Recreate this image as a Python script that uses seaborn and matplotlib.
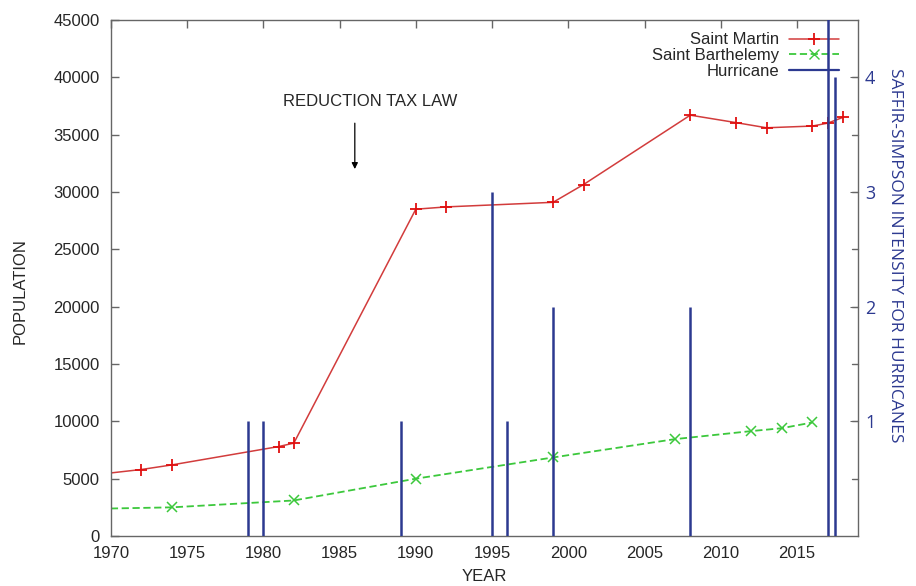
import matplotlib
matplotlib.use("Agg")
import matplotlib.pyplot as plt
from matplotlib.lines import Line2D
import seaborn as sns

# data
sm_years = [1970, 1972, 1974, 1981, 1982, 1990, 1992, 1999, 2001, 2008, 2011, 2013, 2016, 2017, 2018]
sm_pop = [5500, 5800, 6200, 7800, 8100, 28500, 28700, 29100, 30650, 36700, 36050, 35600, 35750, 36000, 36500]

sb_years = [1970, 1974, 1982, 1990, 1999, 2007, 2012, 2014, 2016]
sb_pop = [2400, 2500, 3100, 5000, 6850, 8450, 9150, 9400, 9900]

hurr_years = [1979, 1980, 1989, 1995, 1996, 1999, 2008, 2017, 2017.5]
hurr_cat = [1, 1, 1, 3, 1, 2, 2, 5, 4]

x_ticks = [1970, 1975, 1980, 1985, 1990, 1995, 2000, 2005, 2010, 2015]
y_ticks = list(range(0, 45001, 5000))
cat_ticks = [1, 2, 3, 4]

red = "#d23c3c"
green = "#3cc83c"
navy = "#2c3990"
gray = "#666666"

sns.set_style("white")
plt.rcParams["font.family"] = ["Liberation Sans", "DejaVu Sans"]

fig = plt.figure(figsize=(9.16, 5.86), dpi=100)
ax = fig.add_axes([0.121, 0.0853, 0.8157, 0.8806])

sns.lineplot(x=sm_years, y=sm_pop, ax=ax, color=red, lw=1.1, marker="+",
             markersize=9, markeredgewidth=1.3, markeredgecolor="#e01010",
             markevery=list(range(1, len(sm_years))))
sns.lineplot(x=sb_years, y=sb_pop, ax=ax, color=green, lw=1.3, ls=(0, (4, 2)),
             marker="x", markersize=7, markeredgewidth=1.1,
             markeredgecolor=green, markevery=list(range(1, len(sb_years))))

ax.set_xlim(1970, 2019)
ax.set_ylim(0, 45000)
ax.set_xticks(x_ticks)
ax.set_yticks(y_ticks)
ax.set_xlabel("YEAR", fontsize=12, labelpad=6)
ax.set_ylabel("POPULATION", fontsize=12)
ax.yaxis.set_label_coords(-0.112, 0.475)
ax.tick_params(axis="both", direction="in", length=6, width=1, color=gray,
               labelsize=12, top=True, pad=7)
ax.tick_params(axis="y", pad=8)
for s in ax.spines.values():
    s.set_color(gray)
    s.set_linewidth(1)

# hurricanes on the second axis
ax2 = ax.twinx()
ax2.vlines(hurr_years, 0, hurr_cat, color=navy, lw=1.8)
ax2.set_ylim(0, 4.5)
ax2.set_yticks(cat_ticks)
ax2.tick_params(axis="y", direction="in", length=6, color=gray, labelsize=13,
                labelcolor=navy, pad=5)
for lab in ax2.get_yticklabels():
    lab.set_family("Open Sans")
ax2.set_ylabel("SAFFIR-SIMPSON INTENSITY FOR HURRICANES", rotation=-90,
               color=navy, fontsize=12.5, family="Open Sans")
ax2.yaxis.set_label_coords(1.06, 0.545)
for s in ax2.spines.values():
    s.set_visible(False)

# mirror left ticks on the right edge
for yv in y_ticks[1:-1]:
    ax.plot([2019 - 0.38, 2019], [yv, yv], color=gray, lw=1, clip_on=False)

ax.text(1987, 37900, "REDUCTION TAX LAW", ha="center", va="center", fontsize=12)
ax.annotate("", xy=(1986, 32000), xytext=(1986, 36000),
            arrowprops=dict(arrowstyle="-|>", color="black", lw=0.9,
                            shrinkA=0, shrinkB=0, mutation_scale=9))

handles = [
    Line2D([], [], color=red, lw=1.1, marker="+", markersize=9,
           markeredgewidth=1.3, markeredgecolor="#e01010"),
    Line2D([], [], color=green, lw=1.3, ls=(0, (4, 2)), marker="x",
           markersize=7, markeredgecolor=green),
    Line2D([], [], color=navy, lw=1.6),
]
ax.legend(handles, ["Saint Martin", "Saint Barthelemy", "Hurricane"],
          loc="upper right", bbox_to_anchor=(0.975, 0.976), frameon=False,
          markerfirst=False, handlelength=3.0, fontsize=12, labelspacing=0.05,
          handletextpad=0.6, borderpad=0, borderaxespad=0)

fig.savefig("out.png", dpi=100)
